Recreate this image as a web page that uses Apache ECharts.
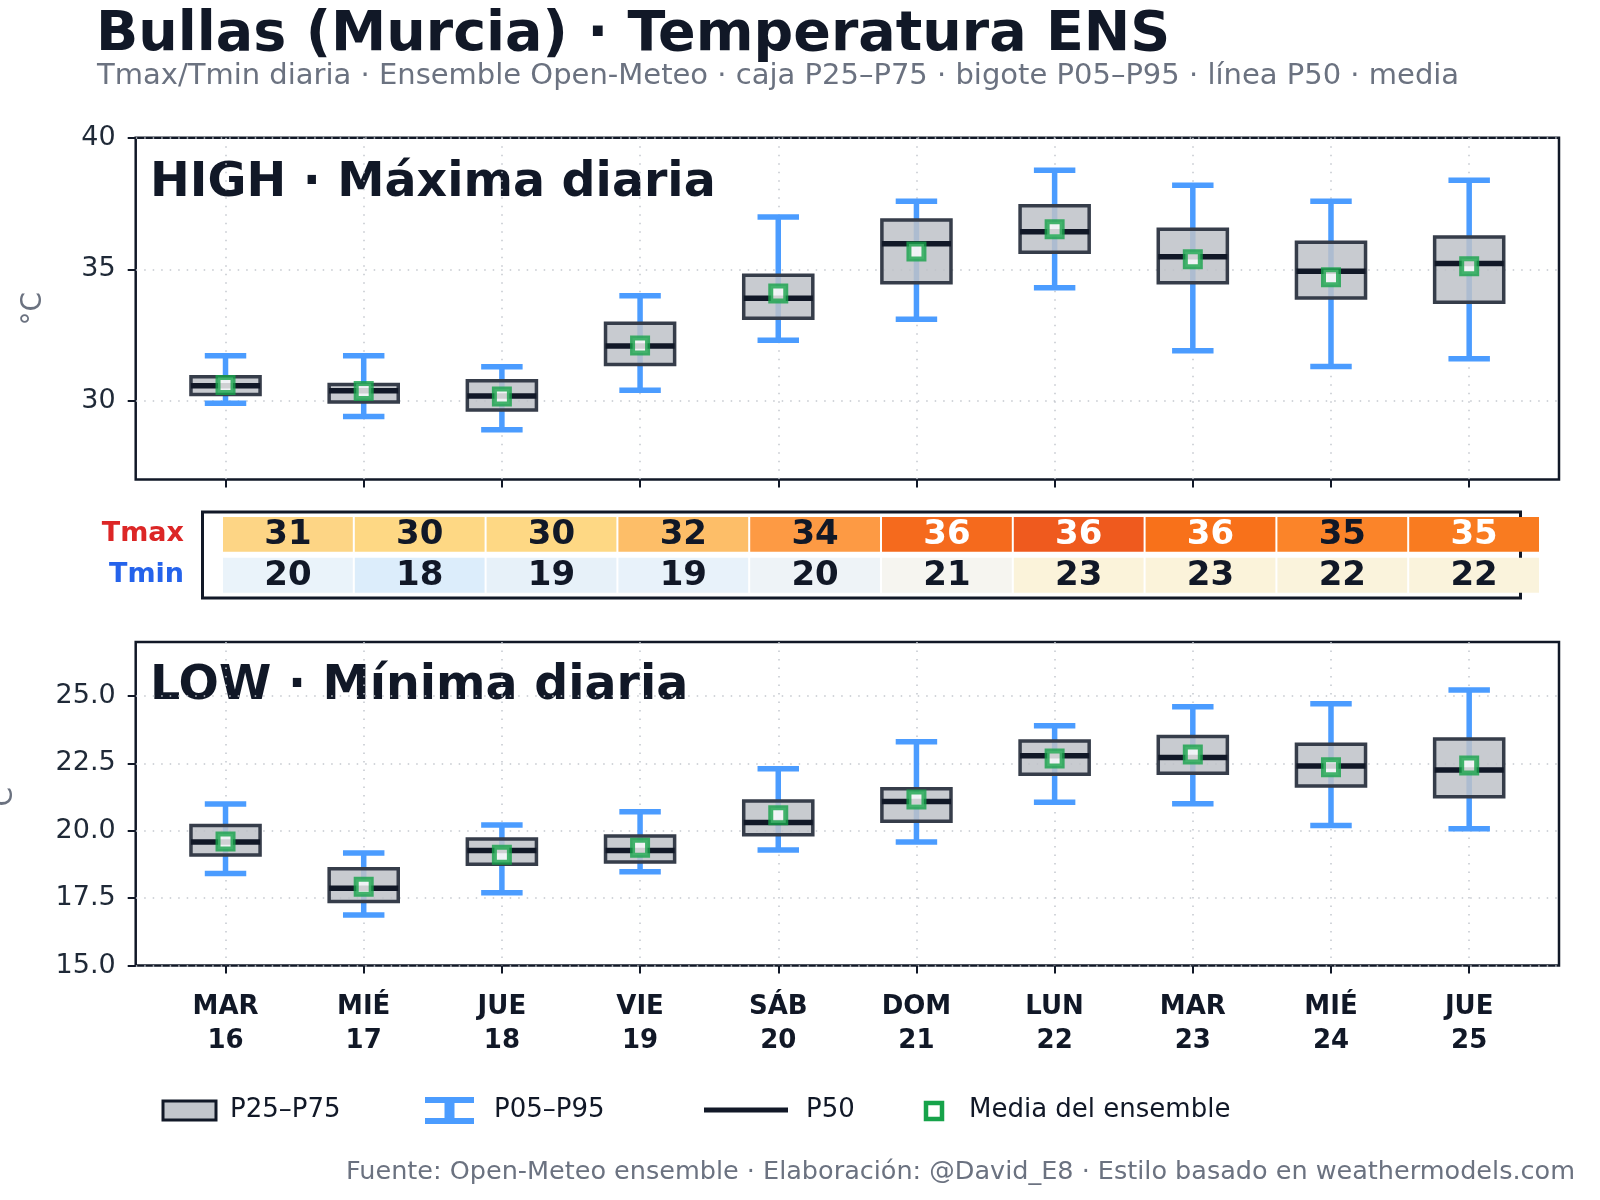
<!DOCTYPE html>
<html>
<head>
<meta charset="utf-8">
<script src="https://cdn.jsdelivr.net/npm/echarts@6/dist/echarts.min.js"></script>
<style>
    html, body { margin: 0; padding: 0; background: #fff; }
    #chart { width: 1600px; height: 1200px; }
</style>
</head>
<body>
<div id="chart"></div>
<script>
// días del pronóstico
const weekdays = ["MAR", "MIÉ", "JUE", "VIE", "SÁB", "DOM", "LUN", "MAR", "MIÉ", "JUE"];
const dates = ["16", "17", "18", "19", "20", "21", "22", "23", "24", "25"];

// Tmax percentiles (°C)
const tmaxP05 = [29.9, 29.4, 28.9, 30.4, 32.3, 33.1, 34.3, 31.9, 31.3, 31.6];
const tmaxP25 = [30.24, 29.95, 29.65, 31.38, 33.14, 34.49, 35.65, 34.49, 33.91, 33.75];
const tmaxP50 = [30.57, 30.38, 30.18, 32.08, 33.9, 35.97, 36.43, 35.48, 34.92, 35.22];
const tmaxP75 = [30.91, 30.62, 30.76, 32.95, 34.77, 36.87, 37.42, 36.52, 36.03, 36.23];
const tmaxP95 = [31.71, 31.71, 31.29, 33.99, 36.99, 37.59, 38.77, 38.2, 37.59, 38.39];
const tmaxMean = [30.6, 30.37, 30.16, 32.1, 34.08, 35.68, 36.52, 35.38, 34.7, 35.11];

// Tmin percentiles (°C)
const tminP05 = [18.41, 16.87, 17.7, 18.48, 19.28, 19.58, 21.06, 21.0, 20.19, 20.07];
const tminP25 = [19.1, 17.37, 18.76, 18.84, 19.85, 20.35, 22.09, 22.13, 21.66, 21.26];
const tminP50 = [19.58, 17.87, 19.27, 19.27, 20.3, 21.08, 22.78, 22.72, 22.4, 22.25];
const tminP75 = [20.19, 18.59, 19.69, 19.8, 21.1, 21.56, 23.33, 23.49, 23.21, 23.4];
const tminP95 = [20.99, 19.17, 20.21, 20.7, 22.3, 23.3, 23.89, 24.6, 24.71, 25.22];
const tminMean = [19.6, 17.92, 19.11, 19.37, 20.57, 21.16, 22.68, 22.83, 22.35, 22.42];

// tabla resumen
const tmaxTable = [31, 30, 30, 32, 34, 36, 36, 36, 35, 35];
const tminTable = [20, 18, 19, 19, 20, 21, 23, 23, 22, 22];
const tmaxCellColors = ["#fdd585", "#fed884", "#fed884", "#fdbe68", "#fd9a44", "#f56a1d", "#ef5a1e", "#f8711a", "#fb8429", "#f97b20"];
const tminCellColors = ["#eaf3fa", "#dcedfb", "#e7f1f9", "#e8f2fa", "#eef3f7", "#f6f5f0", "#fbf3da", "#fbf3da", "#faf3dc", "#faf3dc"];

const topTicks = [30, 35, 40];
const lowTicks = [15, 17.5, 20, 22.5, 25];
const catTicks = [0, 1, 2, 3, 4, 5, 6, 7, 8, 9];

const FONT = "DejaVu Sans";
const DARK = "#111827";
const GRAY = "#6b7280";
const WHISKER = "#4b9cff";
const BOX_FILL = "rgba(190,194,200,0.85)";
const BOX_STROKE = "#363d4a";
const GREEN = "#16a34a";

function boxData(p05, p25, p50, p75, p95) {
    return p50.map((v, i) => [i, p05[i], p25[i], v, p75[i], p95[i]]);
}

/**
 * caja + bigotes + mediana de un día
 */
function renderBox(params, api) {
    const x = api.value(0);
    const lo = api.coord([x, api.value(1)]);
    const q1 = api.coord([x, api.value(2)]);
    const med = api.coord([x, api.value(3)]);
    const q3 = api.coord([x, api.value(4)]);
    const hi = api.coord([x, api.value(5)]);
    const bw = api.size([0.5, 0])[0];
    const cw = api.size([0.3, 0])[0];
    const cx = med[0];
    const wStyle = { stroke: WHISKER, lineWidth: 5.5 };
    return {
        type: "group",
        children: [
            { type: "line", shape: { x1: cx, y1: lo[1], x2: cx, y2: hi[1] }, style: wStyle },
            { type: "line", shape: { x1: cx - cw / 2, y1: lo[1], x2: cx + cw / 2, y2: lo[1] }, style: wStyle },
            { type: "line", shape: { x1: cx - cw / 2, y1: hi[1], x2: cx + cw / 2, y2: hi[1] }, style: wStyle },
            {
                type: "rect",
                shape: { x: cx - bw / 2, y: q3[1], width: bw, height: q1[1] - q3[1] },
                style: { fill: BOX_FILL, stroke: BOX_STROKE, lineWidth: 3.5 },
            },
            { type: "line", shape: { x1: cx - bw / 2, y1: med[1], x2: cx + bw / 2, y2: med[1] }, style: { stroke: DARK, lineWidth: 5.5 } },
        ],
    };
}

function lum(hex) {
    const r = parseInt(hex.slice(1, 3), 16);
    const g = parseInt(hex.slice(3, 5), 16);
    const b = parseInt(hex.slice(5, 7), 16);
    return 0.299 * r + 0.587 * g + 0.114 * b;
}

/**
 * celda de la tabla Tmax / Tmin
 */
function renderCell(params, api) {
    const c = api.coord([api.value(0), api.value(1)]);
    const s = api.size([1, 1]);
    const row = api.value(1);
    const i = api.value(0);
    const fill = row === 1 ? tmaxCellColors[i] : tminCellColors[i];
    return {
        type: "group",
        children: [
            {
                type: "rect",
                shape: { x: c[0] - s[0] / 2 + 1, y: c[1] - s[1] / 2 + 3, width: s[0] - 2, height: s[1] - 6 },
                style: { fill },
            },
            {
                type: "text",
                x: c[0],
                y: c[1] + 1,
                style: {
                    text: String(api.value(2)),
                    fill: lum(fill) < 154 ? "#ffffff" : DARK,
                    font: "bold 34px " + FONT,
                    align: "center",
                    verticalAlign: "middle",
                },
            },
        ],
    };
}

function valueXAxis(gridIndex, showLabel) {
    return {
        type: "value",
        gridIndex,
        min: -0.65,
        max: 9.65,
        axisLine: { show: false, onZero: false },
        axisTick: { show: true, customValues: catTicks, length: 8, lineStyle: { color: DARK, width: 2 } },
        axisLabel: {
            show: showLabel,
            customValues: catTicks,
            margin: 25,
            lineHeight: 34,
            fontSize: 26,
            fontWeight: "bold",
            color: DARK,
            formatter: v => weekdays[Math.round(v)] + "\n" + dates[Math.round(v)],
        },
        splitLine: { show: true, lineStyle: { color: "#c3c7ce", width: 1.5, type: [1.5, 7] } },
    };
}

function valueYAxis(gridIndex, min, max, ticks, digits, nameGap) {
    return {
        type: "value",
        gridIndex,
        min,
        max,
        name: "°C",
        nameLocation: "middle",
        nameGap,
        nameTextStyle: { color: GRAY, fontSize: 28 },
        axisLine: { show: false, onZero: false },
        axisTick: { show: true, customValues: ticks, length: 8, lineStyle: { color: DARK, width: 2 } },
        axisLabel: { customValues: ticks, margin: 20, fontSize: 27, color: "#1f2937", formatter: v => v.toFixed(digits) },
        splitLine: { show: true, lineStyle: { color: "#c3c7ce", width: 1.5, type: [1.5, 7] } },
    };
}

const cellData = [];
tmaxTable.forEach((v, i) => cellData.push([i, 1, v]));
tminTable.forEach((v, i) => cellData.push([i, 0, v]));

const gridFrame = { show: true, borderColor: DARK, borderWidth: 2.5, backgroundColor: "transparent", containLabel: false, outerBoundsMode: "none" };

function txt(text, x, y, font, fill, align) {
    return { type: "text", x, y, style: { text, font, fill, align: align || "left", verticalAlign: "middle" } };
}

const option = {
    animation: false,
    textStyle: { fontFamily: FONT },
    grid: [
        Object.assign({ left: 135.7, top: 137.8, width: 1423.3, height: 341.8 }, gridFrame),
        Object.assign({ left: 135.7, top: 642, width: 1423.3, height: 323.5 }, gridFrame),
        { left: 222, top: 514, width: 1318, height: 81.7, containLabel: false, outerBoundsMode: "none" },
    ],
    xAxis: [
        valueXAxis(0, false),
        valueXAxis(1, true),
        { type: "category", gridIndex: 2, data: dates, show: false },
    ],
    yAxis: [
        valueYAxis(0, 27, 40, topTicks, 0, 88),
        valueYAxis(1, 15, 27, lowTicks, 1, 117),
        {
            type: "category",
            gridIndex: 2,
            data: ["Tmin", "Tmax"],
            axisLine: { show: false },
            axisTick: { show: false },
            axisLabel: {
                margin: 38,
                formatter: v => "{" + v + "|" + v + "}",
                rich: {
                    Tmax: { color: "#dc2626", fontSize: 27, fontWeight: "bold", fontFamily: FONT },
                    Tmin: { color: "#2563eb", fontSize: 27, fontWeight: "bold", fontFamily: FONT },
                },
            },
        },
    ],
    graphic: [
        txt("Bullas (Murcia) · Temperatura ENS", 96, 36, "bold 55.5px " + FONT, DARK),
        txt("Tmax/Tmin diaria · Ensemble Open-Meteo · caja P25–P75 · bigote P05–P95 · línea P50 · media", 97, 76, "29px " + FONT, GRAY),
        txt("HIGH · Máxima diaria", 150, 184, "bold 47.5px " + FONT, DARK),
        txt("LOW · Mínima diaria", 150, 687, "bold 47.5px " + FONT, DARK),
        {
            type: "rect",
            z: 0,
            shape: { x: 202.5, y: 512, width: 1318, height: 86 },
            style: { fill: "#fff", stroke: DARK, lineWidth: 3 },
        },
        // leyenda
        { type: "rect", shape: { x: 163, y: 1101, width: 53, height: 19 }, style: { fill: "#c2c6cc", stroke: DARK, lineWidth: 3 } },
        txt("P25–P75", 230, 1110, "26px " + FONT, DARK),
        { type: "rect", shape: { x: 425, y: 1097, width: 49, height: 6 }, style: { fill: WHISKER } },
        { type: "rect", shape: { x: 425, y: 1118, width: 49, height: 6 }, style: { fill: WHISKER } },
        { type: "rect", shape: { x: 444.5, y: 1097, width: 10, height: 27 }, style: { fill: WHISKER } },
        txt("P05–P95", 494, 1110, "26px " + FONT, DARK),
        { type: "line", shape: { x1: 704, y1: 1110, x2: 788, y2: 1110 }, style: { stroke: DARK, lineWidth: 5 } },
        txt("P50", 806, 1110, "26px " + FONT, DARK),
        { type: "rect", shape: { x: 926, y: 1103, width: 16, height: 16 }, style: { fill: "#fff", stroke: GREEN, lineWidth: 4.5 } },
        txt("Media del ensemble", 969, 1110, "26px " + FONT, DARK),
        txt("Fuente: Open-Meteo ensemble · Elaboración: @David_E8 · Estilo basado en weathermodels.com", 1575, 1172, "25.5px " + FONT, GRAY, "right"),
    ],
    series: [
        {
            type: "custom",
            xAxisIndex: 0,
            yAxisIndex: 0,
            renderItem: renderBox,
            encode: { x: 0, y: [1, 2, 3, 4, 5] },
            data: boxData(tmaxP05, tmaxP25, tmaxP50, tmaxP75, tmaxP95),
            z: 2,
        },
        {
            type: "scatter",
            xAxisIndex: 0,
            yAxisIndex: 0,
            symbol: "rect",
            symbolSize: 15,
            itemStyle: { color: "#fff", borderColor: GREEN, borderWidth: 5 },
            data: tmaxMean.map((v, i) => [i, v]),
            z: 3,
        },
        {
            type: "custom",
            xAxisIndex: 1,
            yAxisIndex: 1,
            renderItem: renderBox,
            encode: { x: 0, y: [1, 2, 3, 4, 5] },
            data: boxData(tminP05, tminP25, tminP50, tminP75, tminP95),
            z: 2,
        },
        {
            type: "scatter",
            xAxisIndex: 1,
            yAxisIndex: 1,
            symbol: "rect",
            symbolSize: 15,
            itemStyle: { color: "#fff", borderColor: GREEN, borderWidth: 5 },
            data: tminMean.map((v, i) => [i, v]),
            z: 3,
        },
        {
            type: "custom",
            xAxisIndex: 2,
            yAxisIndex: 2,
            renderItem: renderCell,
            encode: { x: 0, y: 1 },
            data: cellData,
            z: 5,
        },
    ],
};

const chart = echarts.init(document.getElementById("chart"), null, { renderer: "canvas" });
chart.setOption(option);
</script>
</body>
</html>
